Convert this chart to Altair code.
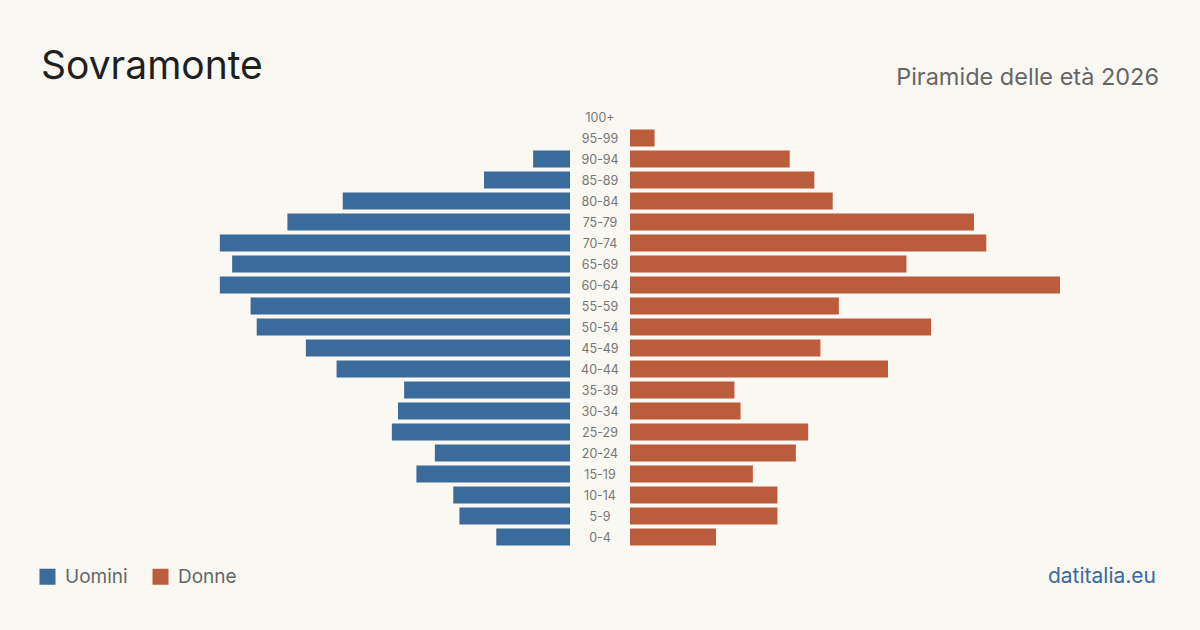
import altair as alt
import pandas as pd

ages = ["100+", "95-99", "90-94", "85-89", "80-84", "75-79", "70-74", "65-69",
        "60-64", "55-59", "50-54", "45-49", "40-44", "35-39", "30-34", "25-29",
        "20-24", "15-19", "10-14", "5-9", "0-4"]
men = [0, 0, 6, 14, 37, 46, 57, 55, 57, 52, 51, 43, 38, 27, 28, 29, 22, 25, 19, 18, 12]
women = [0, 4, 26, 30, 33, 56, 58, 45, 70, 34, 49, 31, 42, 17, 18, 29, 27, 20, 24, 24, 14]

title = "Sovramonte"
subtitle = "Piramide delle età 2026"
source = "datitalia.eu"
sexes = ["Uomini", "Donne"]

BLUE = "#3b6a9c"
ORANGE = "#bb5d3c"
BG = "#f9f8f3"
FONT = "Inter"

df = pd.DataFrame(
    [{"age": a, "sex": "Uomini", "value": v} for a, v in zip(ages, men)]
    + [{"age": a, "sex": "Donne", "value": v} for a, v in zip(ages, women)]
)

yscale = alt.Scale(domain=ages, range=[106.5, 547.5], paddingInner=0.19, paddingOuter=0.095)
color = alt.Color(
    "sex:N",
    scale=alt.Scale(domain=sexes, range=[BLUE, ORANGE]),
    legend=alt.Legend(
        orient="none", legendX=38, legendY=567, direction="horizontal", title=None,
        symbolType="square", symbolSize=256, symbolStrokeWidth=0, symbolOpacity=1,
        labelFontSize=19, labelColor="#666666", labelFont=FONT, labelOffset=8,
        columnPadding=23, labelLimit=200,
    ),
)

base = alt.Chart(df)

left = base.transform_filter(alt.datum.sex == "Uomini").mark_bar().encode(
    x=alt.X("value:Q", scale=alt.Scale(domain=[0, 70], range=[570, 140]), axis=None),
    y=alt.Y("age:N", scale=yscale, axis=None),
    color=color,
)

right = base.transform_filter(alt.datum.sex == "Donne").mark_bar().encode(
    x=alt.X("value:Q", scale=alt.Scale(domain=[0, 70], range=[630, 1060]), axis=None),
    y=alt.Y("age:N", scale=yscale, axis=None),
    color=color,
)

labels = base.transform_filter(alt.datum.sex == "Uomini").mark_text(
    fontSize=12.5, color="#777777", font=FONT, align="center", baseline="middle", dy=0.5
).encode(
    x=alt.value(600),
    y=alt.Y("age:N", scale=yscale, axis=None),
    text="age:N",
)

t_title = alt.Chart(pd.DataFrame({"t": [title]})).mark_text(
    fontSize=39, color="#1f1f1f", font=FONT, align="left", baseline="alphabetic"
).encode(x=alt.value(41), y=alt.value(79), text="t:N")

t_sub = alt.Chart(pd.DataFrame({"t": [subtitle]})).mark_text(
    fontSize=23.5, color="#666666", font=FONT, align="right", baseline="alphabetic"
).encode(x=alt.value(1159), y=alt.value(85), text="t:N")

t_src = alt.Chart(pd.DataFrame({"t": [source]})).mark_text(
    fontSize=21, color=BLUE, font=FONT, align="right", baseline="alphabetic"
).encode(x=alt.value(1156), y=alt.value(583), text="t:N")

chart = alt.layer(left, right, labels, t_title, t_sub, t_src).resolve_scale(
    x="independent"
).properties(
    width=1200, height=630, autosize=alt.AutoSizeParams(type="none"), padding=0,
    background=BG,
).configure_view(stroke=None)

chart.save("out.html", embed_options={"renderer": "svg", "actions": False})
